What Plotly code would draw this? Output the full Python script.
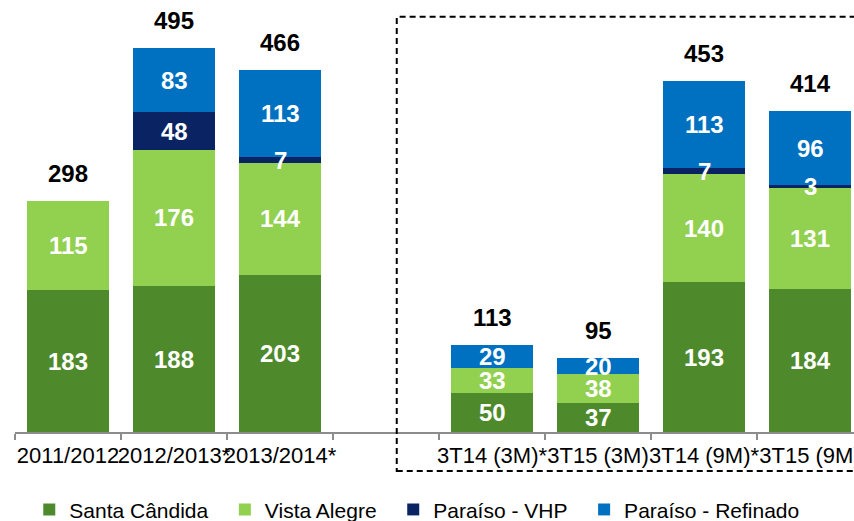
import plotly.graph_objects as go

# categorias (el espacio vacio separa safras de trimestres)
categorias = ['2011/2012', '2012/2013*', '2013/2014*', ' ',
              '3T14 (3M)*', '3T15 (3M)', '3T14 (9M)*', '3T15 (9M)']

santa_candida = [183, 188, 203, None, 50, 37, 193, 184]
vista_alegre = [115, 176, 144, None, 33, 38, 140, 131]
paraiso_vhp = [0, 48, 7, None, 0, 0, 7, 3]
paraiso_refinado = [0, 83, 113, None, 29, 20, 113, 96]
totales = [298, 495, 466, None, 113, 95, 453, 414]

nombres = ['Santa Cândida', 'Vista Alegre', 'Paraíso - VHP', 'Paraíso - Refinado']
colores = ['#4E8A2C', '#92D050', '#0A2463', '#0070C0']
valores_series = [santa_candida, vista_alegre, paraiso_vhp, paraiso_refinado]

fuente = 'Arial, Liberation Sans, sans-serif'
relleno = '\u00a0\u00a0'  # espacio extra entre items de la leyenda

fig = go.Figure()
base = [0] * len(categorias)
for k, (nombre, valores, color) in enumerate(zip(nombres, valores_series, colores)):
    fig.add_trace(go.Bar(
        x=categorias,
        y=valores,
        name=nombre + (relleno if k < len(nombres) - 1 else ''),
        marker=dict(color=color, line=dict(width=0)),
        hoverinfo='skip',
    ))
    # etiquetas de cada segmento (anotaciones para que los chicos no se corten)
    for i, v in enumerate(valores):
        if not v:
            continue
        fig.add_annotation(x=categorias[i], y=base[i] + v / 2, text='<b>%d</b>' % v,
                           showarrow=False, yanchor='middle',
                           font=dict(family=fuente, size=24, color='white'))
        base[i] += v

# totales arriba de cada barra
for i, t in enumerate(totales):
    if t is None:
        continue
    fig.add_annotation(x=categorias[i], y=base[i], text='<b>%d</b>' % t,
                       showarrow=False, yanchor='bottom', yshift=12,
                       font=dict(family=fuente, size=24, color='black'))

# recuadro punteado de los trimestres
fig.add_shape(type='rect', xref='paper', yref='paper',
              x0=0.455, x1=1.03, y0=-0.09, y1=0.961,
              line=dict(color='black', width=2, dash='6px,4px'),
              fillcolor='rgba(0,0,0,0)')

fig.update_layout(
    barmode='stack',
    bargap=0.226,
    width=854, height=521,
    margin=dict(l=15, r=0, t=0, b=89, autoexpand=False),
    plot_bgcolor='white',
    paper_bgcolor='white',
    font=dict(family=fuente, size=21, color='black'),
    showlegend=True,
    legend=dict(orientation='h', x=0.017, xanchor='left', y=-0.18, yanchor='middle',
                font=dict(family=fuente, size=21), itemwidth=30,
                traceorder='normal'),
    xaxis=dict(range=[-0.5, 7.415], showline=True, linecolor='#8C8C8C', linewidth=2,
               ticks='outside', tickson='boundaries', ticklen=6, tickwidth=2,
               tickcolor='#8C8C8C', showgrid=False, tickangle=0, automargin=False,
               ticklabelstandoff=3,
               tickfont=dict(family=fuente, size=22, color='black')),
    yaxis=dict(range=[0, 557], visible=False, showgrid=False, automargin=False),
)

# quitar el margen del body para que la figura ocupe toda la ventana
fig.write_html('out.html', config={'displayModeBar': False},
               post_script="document.body.style.margin='0';document.body.style.overflow='hidden';")
